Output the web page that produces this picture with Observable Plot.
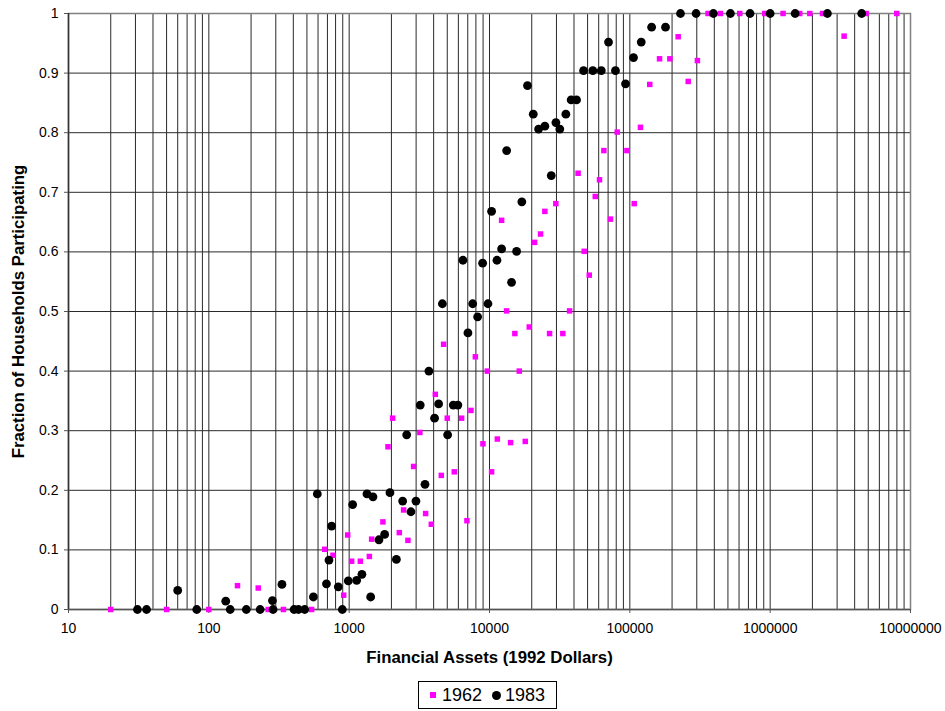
<!DOCTYPE html>
<html><head><meta charset="utf-8">
<script src="https://cdn.jsdelivr.net/npm/d3@7"></script>
<script src="https://cdn.jsdelivr.net/npm/@observablehq/plot@0.6"></script>
<style>
body{margin:0;background:#fff;font-family:"Liberation Sans",Arial,sans-serif;}
#wrap{position:relative;width:945px;height:711px;}
#legend{position:absolute;left:418px;top:681px;width:137px;height:26px;border:1px solid #000;background:#fff;
display:flex;align-items:center;justify-content:center;font-size:18px;color:#000;gap:0;}
#legend .sq{display:inline-block;width:6px;height:6px;background:#ff00ff;margin-right:6px;}
#legend .ci{display:inline-block;width:9px;height:9px;border-radius:50%;background:#000;margin-left:10px;margin-right:4px;}
</style></head><body><div id="wrap"><div id="chart"></div>
<div id="legend"><span class="sq"></span><span>1962</span><span class="ci"></span><span>1983</span></div></div>
<script>
const assets1962 = [20,50,100,160,225,265,340,540,670,767,914,976,1041,1201,1393,1446,1740,1890,2040,2277,2443,2623,2878,3190,3505,3850,4110,4535,4710,5000,5613,6330,6905,7380,7930,8980,9650,10350,11370,12200,13240,14130,15160,16300,17980,19200,20950,23100,24800,26800,29700,33300,37200,42800,47300,51400,56700,60800,65300,72800,81300,95300,107500,119000,138700,162800,192900,221000,260600,303000,361000,442000,607000,914000,1236000,1625000,1916000,2360000,3365000,4830000,7980000];
const share1962 = [0,0,0,0.040,0.036,0,0,0,0.101,0.091,0.024,0.125,0.081,0.081,0.089,0.118,0.147,0.273,0.321,0.129,0.167,0.116,0.240,0.297,0.161,0.143,0.361,0.225,0.445,0.321,0.231,0.321,0.149,0.334,0.424,0.278,0.400,0.231,0.286,0.653,0.501,0.280,0.463,0.400,0.282,0.474,0.616,0.630,0.668,0.463,0.681,0.463,0.501,0.732,0.601,0.561,0.693,0.721,0.770,0.655,0.801,0.770,0.681,0.809,0.881,0.924,0.924,0.961,0.886,0.921,1,1,1,1,1,1,1,1,0.962,1,1];
const assets1983 = [31,36,60,82,132,142,185,232,284,287,332,405,435,482,556,593,689,718,750,837,894,986,1059,1131,1233,1339,1423,1478,1630,1790,1953,2170,2405,2570,2756,2992,3210,3470,3700,4060,4340,4615,5030,5520,5950,6467,7020,7590,8230,8935,9750,10350,11300,12200,13250,14360,15600,17000,18650,20500,22370,24800,27540,29730,31700,35000,38200,41700,46800,54500,62600,70500,79000,93200,106200,120600,143000,179600,229600,296600,394000,521000,719000,1000000,1506000,2558000,4490000];
const share1983 = [0,0,0.032,0,0.014,0,0,0,0.015,0,0.042,0,0,0,0.021,0.194,0.043,0.083,0.140,0.038,0,0.048,0.176,0.049,0.059,0.194,0.021,0.189,0.117,0.126,0.196,0.084,0.182,0.293,0.164,0.182,0.343,0.210,0.400,0.321,0.345,0.513,0.293,0.343,0.343,0.586,0.464,0.513,0.491,0.581,0.513,0.668,0.586,0.605,0.770,0.549,0.601,0.684,0.879,0.831,0.806,0.811,0.728,0.817,0.806,0.831,0.855,0.855,0.904,0.904,0.904,0.952,0.904,0.882,0.926,0.952,0.977,0.977,1,1,1,1,1,1,1,1,1];
const xTicks = [10,100,1000,10000,100000,1000000,10000000];
const yTicks = [0,0.1,0.2,0.3,0.4,0.5,0.6,0.7,0.8,0.9,1];
const xTitle = "Financial Assets (1992 Dollars)";
const yTitle = "Fraction of Households Participating";

const d62 = assets1962.map((x,i)=>({x, y: share1962[i]}));
const d83 = assets1983.map((x,i)=>({x, y: share1983[i]}));
const xGrid = d3.scaleLog().domain([10,1e7]).ticks();

const chart = Plot.plot({
  width: 945, height: 668,
  marginLeft: 68, marginRight: 35, marginTop: 13, marginBottom: 59,
  style: {fontFamily: "Liberation Sans, Arial, sans-serif", fontSize: "14px", color: "#000", background: "#fff"},
  x: {type: "log", domain: [10, 1e7]},
  y: {domain: [0, 1]},
  marks: [
    Plot.ruleX(xGrid, {stroke: "#2a2a2a", strokeWidth: 1}),
    Plot.ruleY(yTicks, {stroke: "#2a2a2a", strokeWidth: 1}),
    Plot.frame({stroke: "#808080", strokeWidth: 1.5}),
    Plot.ruleY([0], {stroke: "#555", strokeWidth: 1.5}),
    Plot.ruleX([10], {stroke: "#333", strokeWidth: 1.5}),
    Plot.axisX({ticks: xTicks, tickFormat: d => String(d), tickSize: 4, tickPadding: 10, fontSize: 14, label: null, stroke: "#555"}),
    Plot.axisY({ticks: yTicks, tickFormat: d => String(+d.toFixed(1)), tickSize: 4, tickPadding: 6, fontSize: 14, label: null, stroke: "#555"}),
    Plot.dot(d62, {x: "x", y: "y", symbol: "square", r: 3.1, fill: "#ff00ff"}),
    Plot.dot(d83, {x: "x", y: "y", symbol: "circle", r: 4.4, fill: "#000"}),
    Plot.text([xTitle], {frameAnchor: "bottom", dy: 48, lineAnchor: "middle", textAnchor: "middle", fontWeight: "bold", fontSize: 16.8, fill: "#000"}),
    Plot.text([yTitle], {frameAnchor: "left", dx: -50, rotate: -90, lineAnchor: "middle", textAnchor: "middle", fontWeight: "bold", fontSize: 16.8, fill: "#000"})
  ]
});
document.getElementById("chart").appendChild(chart);
</script></body></html>
